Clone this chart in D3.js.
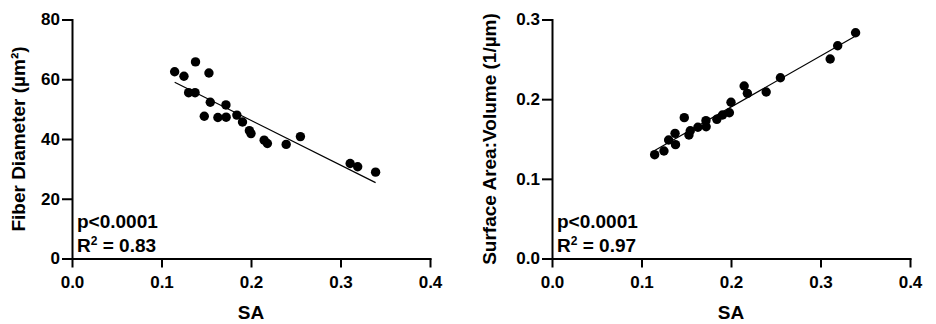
<!DOCTYPE html>
<html>
<head>
<meta charset="utf-8">
<script src="https://cdn.jsdelivr.net/npm/d3@7"></script>
<style>
  body { margin: 0; background: #fff; }
  svg { display: block; font-family: "Liberation Sans", Arial, sans-serif; font-weight: bold; }
  .axis path, .axis line { stroke: #000; stroke-width: 2; }
  .axis text { font-size: 17px; font-weight: bold; fill: #000; }
</style>
</head>
<body>
<script>
// SA values (shared x for both panels)
var sa = [0.1147, 0.1251, 0.1303, 0.1375, 0.1380, 0.1478, 0.1530, 0.1545, 0.1630, 0.1720, 0.1722,
          0.1842, 0.1905, 0.1982, 0.2000, 0.2147, 0.2183, 0.2393, 0.2552, 0.3108, 0.3192, 0.3392];
var fiberDiameter = [62.5, 61.0, 55.5, 55.5, 65.8, 47.6, 62.1, 52.3, 47.2, 51.4, 47.3,
                     48.0, 45.7, 42.8, 41.8, 39.6, 38.5, 38.2, 40.8, 31.8, 30.7, 28.9];
var surfaceVolume = [0.1303, 0.1349, 0.1487, 0.1571, 0.1429, 0.1768, 0.1550, 0.1604, 0.1647, 0.1730, 0.1654,
                     0.1747, 0.1801, 0.1830, 0.1961, 0.2165, 0.2073, 0.2090, 0.2269, 0.2504, 0.2671, 0.2834];

var xTicks = [0.0, 0.1, 0.2, 0.3, 0.4];
var fiberTicks = [0, 20, 40, 60, 80];
var svTicks = [0.0, 0.1, 0.2, 0.3];

var panels = [
  { left: 72, yLabel: "Fiber Diameter (\u00b5m\u00b2)", yDomain: [0, 80], yTicks: fiberTicks,
    yFormat: d3.format("d"), values: fiberDiameter, pText: "p<0.0001", r2: "0.83", titleX: 25 },
  { left: 552, yLabel: "Surface Area:Volume (1/\u00b5m)", yDomain: [0, 0.3], yTicks: svTicks,
    yFormat: d3.format(".1f"), values: surfaceVolume, pText: "p<0.0001", r2: "0.97", titleX: 496 }
];

var W = 936, H = 324, plotTop = 19.5, plotBottom = 258.5, plotW = 358;

var svg = d3.select("body").append("svg").attr("width", W).attr("height", H);

panels.forEach(function(p) {
  var x = d3.scaleLinear().domain([0, 0.4]).range([p.left, p.left + plotW]);
  var y = d3.scaleLinear().domain(p.yDomain).range([plotBottom, plotTop]);

  svg.append("g")
    .attr("class", "axis")
    .attr("transform", "translate(0," + plotBottom + ")")
    .call(d3.axisBottom(x).tickValues(xTicks).tickFormat(d3.format(".1f"))
      .tickSize(9).tickSizeOuter(0).tickPadding(8))
    .call(function(g) { g.select(".domain").attr("stroke-linecap", "square"); });

  svg.append("g")
    .attr("class", "axis")
    .attr("transform", "translate(" + p.left + ",0)")
    .call(d3.axisLeft(y).tickValues(p.yTicks).tickFormat(p.yFormat)
      .tickSize(10).tickSizeOuter(0).tickPadding(2))
    .call(function(g) { g.select(".domain").attr("stroke-linecap", "square"); });

  // least squares fit
  var pts = sa.map(function(v, i) { return [v, p.values[i]]; });
  var mx = d3.mean(pts, function(d) { return d[0]; });
  var my = d3.mean(pts, function(d) { return d[1]; });
  var sxy = d3.sum(pts, function(d) { return (d[0] - mx) * (d[1] - my); });
  var sxx = d3.sum(pts, function(d) { return (d[0] - mx) * (d[0] - mx); });
  var slope = sxy / sxx, icpt = my - slope * mx;
  var ext = d3.extent(sa);

  svg.append("line")
    .attr("x1", x(ext[0])).attr("y1", y(icpt + slope * ext[0]))
    .attr("x2", x(ext[1])).attr("y2", y(icpt + slope * ext[1]))
    .style("stroke", "#000").style("stroke-width", 1.2);

  svg.append("g").selectAll("circle")
    .data(pts)
    .enter().append("circle")
      .attr("cx", function(d) { return x(d[0]); })
      .attr("cy", function(d) { return y(d[1]); })
      .attr("r", 4.7)
      .style("fill", "#000");

  // axis titles
  svg.append("text")
    .attr("x", (p.left + p.left + plotW) / 2)
    .attr("y", 318.5)
    .attr("text-anchor", "middle")
    .style("font-size", "19px")
    .text("SA");

  svg.append("text")
    .attr("transform", "translate(" + p.titleX + "," + ((plotTop + plotBottom) / 2) + ") rotate(-90)")
    .attr("text-anchor", "middle")
    .style("font-size", "19px")
    .text(p.yLabel);

  // stats
  svg.append("text")
    .attr("x", p.left + 5).attr("y", 228.3)
    .style("font-size", "19px")
    .text(p.pText);

  var r2 = svg.append("text")
    .attr("x", p.left + 5).attr("y", 252.3)
    .style("font-size", "19px");
  r2.append("tspan").text("R");
  r2.append("tspan").attr("dy", -7).style("font-size", "12px").text("2");
  r2.append("tspan").attr("dy", 7).text(" = " + p.r2);
});
</script>
</body>
</html>
